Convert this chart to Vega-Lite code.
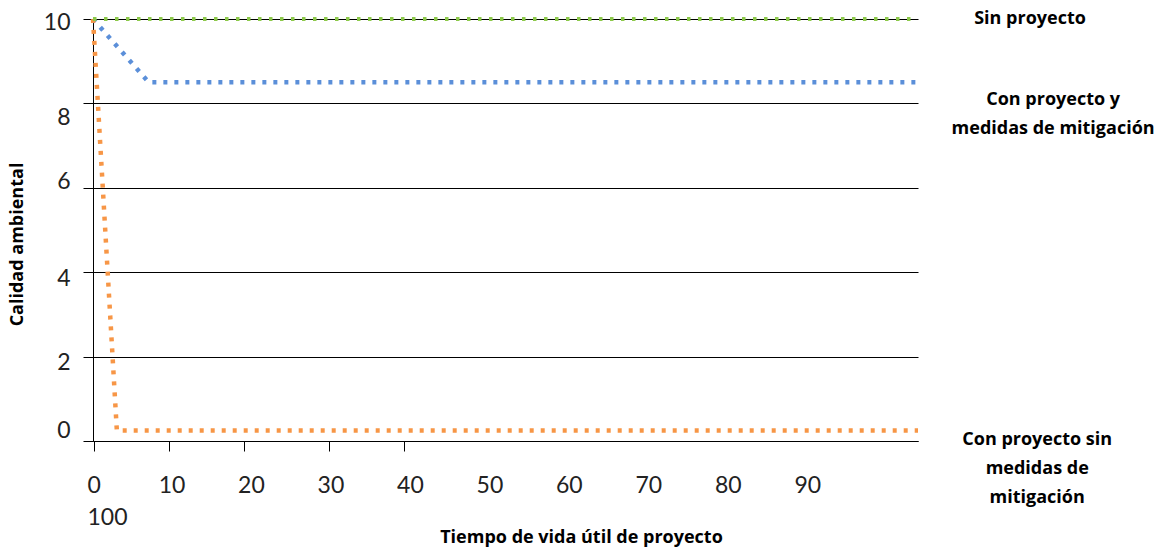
{
  "$schema": "https://vega.github.io/schema/vega-lite/v6.json",
  "width": 825,
  "height": 422,
  "autosize": {"type": "none"},
  "padding": {"left": 93, "top": 19, "right": 249, "bottom": 109},
  "background": "white",
  "config": {
    "view": {"stroke": null},
    "font": "Open Sans",
    "axis": {
      "domainColor": "black",
      "tickColor": "black",
      "gridColor": "black",
      "gridOpacity": 1,
      "labelColor": "#222222",
      "labelFont": "Lato",
      "labelFontSize": 23,
      "titleFont": "Open Sans",
      "titleFontWeight": "bold",
      "titleFontSize": 18,
      "titleColor": "black"
    },
    "axisY": {
      "grid": true,
      "tickSize": 10,
      "labelPadding": 13,
      "labelBaseline": "middle",
      "labelOffset": {"condition": [
        {"test": "datum.value == 10", "value": 3},
        {"test": "datum.value == 8", "value": 14},
        {"test": "datum.value == 6", "value": -6},
        {"test": "datum.value == 4", "value": 6},
        {"test": "datum.value == 2", "value": 6}
      ], "value": -11},
      "titlePadding": 17,
      "titleY": 225
    },
    "text": {"lineBreak": "\n"}
  },
  "datasets": {
    "series": [
      {"serie": "Con proyecto y medidas de mitigación", "t": 0, "v": 10},
      {"serie": "Con proyecto y medidas de mitigación", "t": 7, "v": 8.5},
      {"serie": "Con proyecto y medidas de mitigación", "t": 103.8, "v": 8.5},
      {"serie": "Con proyecto sin medidas de mitigación", "t": 0, "v": 10},
      {"serie": "Con proyecto sin medidas de mitigación", "t": 3, "v": 0.25},
      {"serie": "Con proyecto sin medidas de mitigación", "t": 103.8, "v": 0.25},
      {"serie": "Sin proyecto", "t": 0, "v": 10},
      {"serie": "Sin proyecto", "t": 103.8, "v": 10}
    ],
    "etiquetas": [
      {"texto": "Sin proyecto", "t": 117.9, "v": 10},
      {"texto": "Con proyecto y\nmedidas de mitigación", "t": 120.8, "v": 8.08},
      {"texto": "Con proyecto sin\nmedidas de\nmitigación", "t": 118.8, "v": 0.02}
    ]
  },
  "resolve": {"axis": {"x": "independent"}},
  "layer": [
    {
      "data": {"name": "series"},
      "transform": [{"filter": "datum.serie == 'Con proyecto y medidas de mitigación'"}],
      "mark": {"type": "line", "color": "#5b8fd9", "strokeWidth": 4.5, "strokeDash": [4, 7]},
      "encoding": {
        "x": {
          "field": "t", "type": "quantitative",
          "scale": {"domain": [0, 103.8], "nice": false, "zero": false},
          "axis": {"orient": "bottom", "values": [0.1, 9.6, 19.0, 29.7, 39.1], "labels": false, "grid": false, "domain": true, "ticks": true, "tickSize": 10, "title": null}
        },
        "y": {
          "field": "v", "type": "quantitative",
          "scale": {"domain": [0, 10], "nice": false},
          "axis": {"title": "Calidad ambiental", "values": [0, 2, 4, 6, 8, 10]}
        }
      }
    },
    {
      "data": {"name": "series"},
      "transform": [{"filter": "datum.serie == 'Con proyecto sin medidas de mitigación'"}],
      "mark": {"type": "line", "color": "#f79646", "strokeWidth": 4.5, "strokeDash": [4, 7]},
      "encoding": {
        "x": {
          "field": "t", "type": "quantitative",
          "axis": {
            "orient": "bottom",
            "values": [0, 10, 20, 30, 40, 50, 60, 70, 80, 90],
            "ticks": false, "tickSize": 0, "domain": false, "grid": false,
            "labelPadding": 33,
            "labelLineHeight": 32,
            "labelExpr": "datum.value == 0 ? ['0', '100'] : datum.label",
            "labelAlign": {"condition": {"test": "datum.value == 0", "value": "left"}, "value": "center"},
            "labelOffset": {"condition": {"test": "datum.value == 0", "value": -6}, "value": -1},
            "title": "Tiempo de vida útil de proyecto",
            "titleX": 488, "titleY": 96, "titleBaseline": "middle"
          }
        },
        "y": {"field": "v", "type": "quantitative", "axis": {"title": "Calidad ambiental", "values": [0, 2, 4, 6, 8, 10]}}
      }
    },
    {
      "data": {"name": "series"},
      "transform": [{"filter": "datum.serie == 'Sin proyecto'"}],
      "mark": {"type": "line", "color": "#8cc94a", "strokeWidth": 4, "strokeDash": [3.5, 7.5]},
      "encoding": {
        "x": {"field": "t", "type": "quantitative", "axis": null},
        "y": {"field": "v", "type": "quantitative", "axis": {"title": "Calidad ambiental", "values": [0, 2, 4, 6, 8, 10]}}
      }
    },
    {
      "data": {"name": "etiquetas"},
      "mark": {"type": "text", "font": "Open Sans", "fontWeight": "bold", "fontSize": 18, "color": "black", "align": "center", "baseline": "middle", "lineHeight": 29},
      "encoding": {
        "x": {"field": "t", "type": "quantitative", "axis": null},
        "y": {"field": "v", "type": "quantitative", "axis": {"title": "Calidad ambiental", "values": [0, 2, 4, 6, 8, 10]}},
        "text": {"field": "texto"}
      }
    }
  ]
}
